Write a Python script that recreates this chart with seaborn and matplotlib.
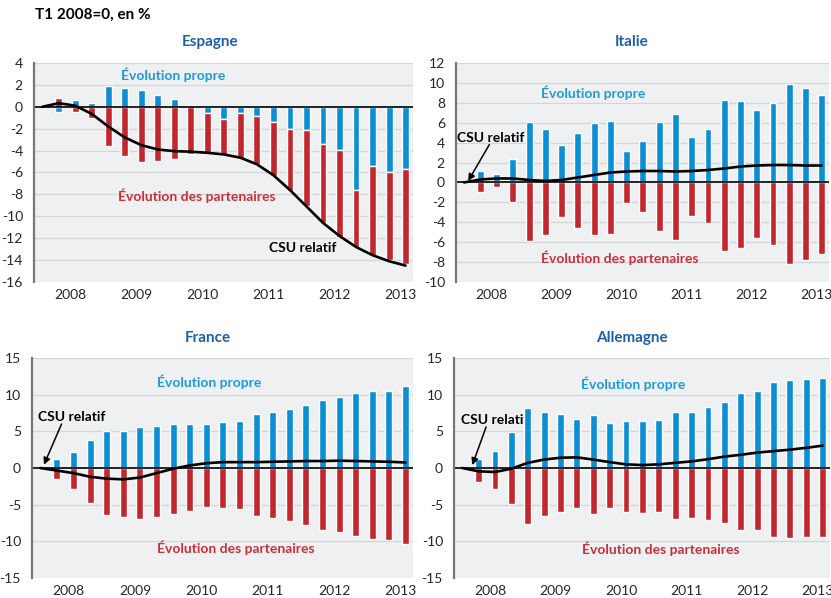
import matplotlib

matplotlib.use("Agg")

import matplotlib.pyplot as plt
import numpy as np
import pandas as pd
import seaborn as sns

# Quarterly data, T1 2008 = 0 (line starts at T1 2008, bars from T2 2008 to T3 2013)
YEARS = ["2008", "2009", "2010", "2011", "2012", "2013"]

ES_OWN = [-0.43, 0.6, 0.37, 1.9, 1.75, 1.55, 1.04, 0.7, 0.18, -0.6, -1.1,
          -0.6, -0.82, -1.4, -2.0, -2.1, -3.4, -3.9, -7.6, -5.45, -6.0, -5.65]
ES_PARTNERS = [0.8, -0.5, -1.0, -3.6, -4.45, -5.07, -4.95, -4.76, -4.3, -3.6, -3.3,
               -4.1, -4.5, -4.9, -5.7, -7.0, -7.2, -8.0, -5.2, -8.05, -8.0, -8.75]
ES_CSU = [0.0, 0.33, 0.1, -0.65, -1.8, -2.8, -3.5, -3.9, -4.05, -4.1, -4.2, -4.35,
          -4.65, -5.25, -6.25, -7.6, -9.1, -10.6, -11.8, -12.8, -13.55, -14.1, -14.5]

IT_OWN = [1.15, 0.8, 2.35, 6.05, 5.4, 3.75, 4.95, 5.95, 6.15, 3.15, 4.15,
          6.05, 6.9, 4.55, 5.35, 8.3, 8.15, 7.25, 7.95, 9.9, 9.5, 8.8]
IT_PARTNERS = [-0.96, -0.43, -2.0, -5.85, -5.3, -3.5, -4.55, -5.25, -5.15, -2.05, -3.0,
               -4.9, -5.8, -3.4, -4.05, -6.9, -6.6, -5.6, -6.25, -8.2, -7.8, -7.15]
IT_CSU = [0.0, 0.3, 0.4, 0.4, 0.25, 0.15, 0.25, 0.5, 0.75, 1.0, 1.1, 1.15,
          1.15, 1.1, 1.15, 1.25, 1.4, 1.6, 1.7, 1.75, 1.75, 1.7, 1.7]

FR_OWN = [1.2, 2.2, 3.8, 5.0, 5.1, 5.55, 5.75, 5.95, 6.05, 6.05, 6.3,
          6.4, 7.35, 7.6, 8.1, 8.65, 9.3, 9.7, 10.2, 10.55, 10.55, 11.15]
FR_PARTNERS = [-1.5, -2.9, -4.8, -6.35, -6.65, -6.95, -6.65, -6.25, -5.8, -5.35, -5.5,
               -5.6, -6.6, -6.8, -7.25, -7.8, -8.4, -8.7, -9.3, -9.7, -9.75, -10.4]
FR_CSU = [0.0, -0.35, -0.7, -1.2, -1.45, -1.55, -1.3, -0.7, -0.1, 0.35, 0.65, 0.8,
          0.8, 0.8, 0.85, 0.9, 0.95, 0.95, 1.0, 0.95, 0.9, 0.85, 0.75]

DE_OWN = [1.25, 2.3, 4.85, 8.25, 7.7, 7.4, 6.75, 7.25, 6.15, 6.45, 6.45,
          6.6, 7.65, 7.7, 8.3, 9.05, 10.25, 10.55, 11.7, 12.05, 12.15, 12.3]
DE_PARTNERS = [-1.85, -2.85, -4.95, -7.7, -6.55, -6.0, -5.45, -6.25, -5.5, -6.05, -6.1,
               -6.05, -6.9, -6.8, -7.15, -7.45, -8.4, -8.45, -9.45, -9.6, -9.45, -9.35]
DE_CSU = [0.0, -0.45, -0.55, -0.1, 0.7, 1.15, 1.4, 1.45, 1.15, 0.8, 0.5, 0.4,
          0.5, 0.7, 0.9, 1.2, 1.55, 1.8, 2.1, 2.3, 2.5, 2.75, 3.05]

BLUE = "#0a8fd4"
RED = "#c1272d"
BLUE_TXT = "#1c9bd8"
RED_TXT = "#c8313a"
TITLE_BLUE = "#1d5fa8"
BG = "#eff0f2"
GRID = "#d3d5d8"

W, H = 831, 598

PANELS = [
    dict(title="Espagne", own=ES_OWN, partners=ES_PARTNERS, csu=ES_CSU,
         rect=(34, 63, 413, 282), ylim=(-16, 4), yticks=range(-16, 5, 2),
         title_xy=(210, 42),
         propre=(7.9, 2.9), part=(9.35, -8.1), csu_txt=(15.75, -12.85), arrow=None),
    dict(title="Italie", own=IT_OWN, partners=IT_PARTNERS, csu=IT_CSU,
         rect=(456, 63, 829, 282), ylim=(-10, 12), yticks=range(-10, 13, 2),
         title_xy=(632, 42),
         propre=(7.93, 9.0), part=(9.6, -7.55), csu_txt=(1.65, 4.5),
         arrow=((1.55, 3.8), (0.25, 0.15))),
    dict(title="France", own=FR_OWN, partners=FR_PARTNERS, csu=FR_CSU,
         rect=(32, 358, 413, 578), ylim=(-15, 15), yticks=range(-15, 16, 5),
         title_xy=(208, 338),
         propre=(10.15, 11.7), part=(11.8, -10.85), csu_txt=(1.9, 7.0),
         arrow=((1.28, 6.0), (0.22, 0.45))),
    dict(title="Allemagne", own=DE_OWN, partners=DE_PARTNERS, csu=DE_CSU,
         rect=(454, 358, 830, 578), ylim=(-15, 15), yticks=range(-15, 16, 5),
         title_xy=(632, 338),
         propre=(10.45, 11.5), part=(12.1, -10.95), csu_txt=(1.97, 6.6),
         arrow=((1.46, 5.6), (0.62, 0.4))),
]


def draw_panel(fig, p):
    l, t, r, b = p["rect"]
    ax = fig.add_axes([l / W, 1 - b / H, (r - l) / W, (b - t) / H])
    ax.set_facecolor(BG)

    df = pd.DataFrame({
        "q": np.arange(1, len(p["own"]) + 1),
        "own": p["own"],
        "partners": p["partners"],
    })
    # partner bar is stacked on the own bar when both go the same way
    same = np.sign(df["own"]) == np.sign(df["partners"])
    df["bottom"] = np.where(same, df["own"], 0.0)

    for y in p["yticks"]:
        if y != 0:
            ax.axhline(y, color=GRID, lw=0.9, zorder=0)

    ax.bar(df["q"], df["own"], width=0.42, color=BLUE, zorder=3)
    ax.bar(df["q"], df["partners"], bottom=df["bottom"], width=0.42, color=RED, zorder=3)
    ax.axhline(0, color="black", lw=1.2, zorder=4)

    line = pd.DataFrame({"q": np.arange(len(p["csu"])), "csu": p["csu"]})
    sns.lineplot(data=line, x="q", y="csu", color="black", lw=1.9, ax=ax, zorder=5)

    ax.set_xlim(-0.5, 22.45)
    ax.set_ylim(*p["ylim"])
    ax.set_yticks(list(p["yticks"]))
    ax.set_yticklabels([str(v) for v in p["yticks"]])
    ax.set_xticks([1.7 + 4 * i for i in range(len(YEARS))])
    ax.set_xticklabels(YEARS)
    ax.set_xticks([3.65 + 4 * i for i in range(5)], minor=True)
    ax.tick_params(axis="x", which="major", length=0, pad=5, labelsize=10)
    ax.tick_params(axis="x", which="minor", length=7, width=1.2, color="#8a8a8a",
                   direction="out")
    ax.tick_params(axis="y", length=3, width=1, color="#777777", pad=5, labelsize=10)
    ax.set_xlabel("")
    ax.set_ylabel("")
    ax.grid(False)
    for s in ["top", "right", "bottom"]:
        ax.spines[s].set_visible(False)
    ax.spines["left"].set_color("#777777")
    ax.spines["left"].set_linewidth(1.6)
    ax.spines["left"].set_zorder(6)

    ax.text(*p["propre"], "Évolution propre", color=BLUE_TXT, fontsize=10,
            fontweight="bold", ha="center", va="center", zorder=6)
    ax.text(*p["part"], "Évolution des partenaires", color=RED_TXT, fontsize=10,
            fontweight="bold", ha="center", va="center", zorder=6)
    # in the Allemagne panel the label sits behind the bars
    ax.text(*p["csu_txt"], "CSU relatif", color="black", fontsize=10,
            fontweight="bold", ha="center", va="center",
            zorder=2 if p["title"] == "Allemagne" else 6)
    if p["arrow"] is not None:
        start, end = p["arrow"]
        ax.annotate("", xy=end, xytext=start,
                    arrowprops=dict(arrowstyle="-|>", color="black", lw=1.1,
                                    mutation_scale=10, shrinkA=0, shrinkB=0), zorder=6)

    tx, ty = p["title_xy"]
    fig.text(tx / W, 1 - ty / H, p["title"], color=TITLE_BLUE, fontsize=11,
             fontweight="bold", ha="center", va="center")
    return ax


def main() -> None:
    sns.set_theme(style="white")
    plt.rcParams["font.family"] = ["Lato", "DejaVu Sans"]
    plt.rcParams["axes.unicode_minus"] = False

    fig = plt.figure(figsize=(W / 100, H / 100), dpi=100)
    fig.patch.set_facecolor("white")

    for p in PANELS:
        draw_panel(fig, p)

    fig.text(35 / W, 1 - 15 / H, "T1 2008=0, en %", fontsize=11, fontweight="bold",
             ha="left", va="center", color="black")

    fig.savefig("out.png", dpi=100)
    plt.close(fig)


if __name__ == "__main__":
    main()
